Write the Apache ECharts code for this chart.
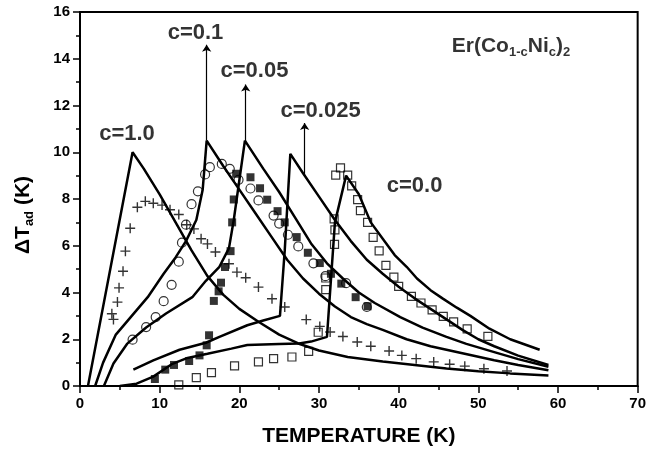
<!DOCTYPE html>
<html>
<head>
<meta charset="utf-8">
<script src="https://cdn.jsdelivr.net/npm/echarts@6/dist/echarts.min.js"></script>
<style>
  html, body { margin: 0; padding: 0; background: #fff; }
  #chart { width: 649px; height: 455px; }
</style>
</head>
<body>
<div id="chart"></div>
<script>
// model curves, [T (K), dTad (K)]
const lineC10 = [[1.0,0],[6.6,10.0],[8,9.3],[10,8.2],[12,7.0],[14,5.8],[16,4.7],[18,3.9],[20,3.3],[22.4,2.75],[25,2.2],[27.4,1.82],[30,1.52],[33.6,1.24],[38,1.05],[42,0.9],[46,0.75],[50,0.63],[54,0.54],[58.8,0.45]];
const lineC01 = [[1.9,0],[2.9,1.0],[4.5,2.2],[6.5,3.0],[8.5,3.8],[10.5,4.8],[12,5.5],[13.3,6.2],[14.6,7.1],[15.4,8.4],[15.9,10.5],[18,9.4],[20,8.4],[22,7.4],[24,6.4],[26,5.4],[28,4.6],[30,3.95],[32,3.4],[34,2.95],[36,2.65],[38,2.4],[41,2.0],[44,1.7],[48,1.4],[52,1.1],[55,0.9],[58.8,0.67]];
const lineC005 = [[3.0,0],[4.2,0.96],[5.9,1.8],[8.3,2.5],[10.8,3.1],[14.1,3.8],[15.8,4.5],[17.5,5.1],[18.7,5.9],[19.3,7.1],[20.7,10.5],[23,9.3],[25,8.3],[27,7.2],[29,6.1],[31,5.25],[33,4.6],[35,4.0],[37,3.55],[40.2,2.95],[43,2.5],[46,2.1],[48.5,1.8],[52,1.45],[55,1.15],[58.8,0.82]];
const lineC0025 = [[6.7,0.7],[9.2,1.1],[12.5,1.55],[15.8,1.85],[17.5,2.1],[21,2.6],[23,2.8],[25.1,3.0],[25.7,5.8],[26.4,9.93],[28,9.1],[30,8.1],[32,7.1],[34,6.2],[36,5.4],[38,4.8],[40,4.25],[42,3.75],[44,3.3],[46,2.85],[48,2.4],[50,2.0],[52,1.7],[55,1.3],[58.8,0.9]];
const lineC00 = [[5.0,0],[7.1,0.1],[9.2,0.4],[11.6,0.95],[13.5,1.2],[16,1.38],[19,1.6],[21,1.75],[25,1.8],[27.5,1.82],[29,1.9],[31,2.1],[32,7.0],[33.4,9.0],[35,8.2],[36.5,7.0],[38,6.3],[39.5,5.6],[41,5.1],[42.3,4.6],[44,4.1],[45.5,3.75],[47.3,3.35],[49,3.0],[51.4,2.45],[54,2.0],[57.7,1.55]];

// measured points
const plusC10 = [[4.2,2.85],[4.0,3.09],[4.7,3.59],[4.9,4.2],[5.4,4.91],[5.7,5.77],[6.3,6.75],[7.2,7.65],[8.2,7.9],[9.2,7.82],[10.3,7.74],[11.3,7.54],[12.4,7.34],[13.4,6.9],[14.3,6.72],[15.2,6.3],[16.0,6.08],[17.0,5.73],[18.7,5.23],[19.7,4.87],[20.8,4.63],[22.4,4.23],[24.1,3.73],[25.7,3.38],[28.4,2.84],[30.1,2.55],[31.4,2.31],[33.0,2.12],[34.8,1.88],[36.5,1.7],[38.8,1.5],[40.4,1.31],[42.2,1.17],[44.4,1.03],[46.4,0.93],[48.3,0.85],[50.7,0.74],[53.6,0.64]];
const circC01 = [[6.6,1.98],[8.3,2.52],[9.5,2.95],[10.5,3.63],[11.5,4.33],[12.4,5.32],[12.8,6.13],[13.3,6.9],[14.0,7.78],[14.8,8.33],[15.7,9.05],[16.3,9.36],[17.8,9.5],[18.8,9.29],[19.9,8.82],[21.4,8.45],[22.4,7.94],[24.3,7.29],[25.0,6.95],[26.1,6.47],[27.4,5.97],[29.3,5.25],[30.8,4.7],[33.4,4.4],[36.0,3.38]];
const fillSqC005 = [[9.4,0.3],[10.7,0.7],[11.8,0.9],[13.7,1.07],[15.0,1.31],[15.9,1.74],[16.2,2.17],[16.8,3.64],[17.4,4.05],[17.7,4.42],[18.2,5.09],[18.9,5.77],[19.1,7.0],[19.3,7.98],[19.6,9.08],[21.4,8.93],[22.6,8.46],[23.5,7.97],[24.8,7.48],[25.7,7.0],[27.2,6.37],[28.6,5.7],[30.1,5.26],[31.5,4.8],[32.8,4.38],[34.6,3.8],[36.1,3.41]];
const openSqC00 = [[12.4,0.05],[14.6,0.36],[16.5,0.57],[19.4,0.86],[22.4,1.03],[24.3,1.17],[26.6,1.24],[28.7,1.48],[29.9,2.3],[30.85,4.12],[30.85,4.62],[31.95,6.06],[32.0,6.68],[31.9,7.15],[32.1,9.02],[32.7,9.33],[33.6,9.02],[34.1,8.56],[34.85,7.97],[35.2,7.5],[36.1,7.0],[36.8,6.36],[37.55,5.78],[38.4,5.16],[39.4,4.66],[40.0,4.26],[41.6,3.83],[42.8,3.55],[44.2,3.26],[45.6,2.98],[46.9,2.74],[48.6,2.44],[51.2,2.12]];

// annotations
const arrowLines = [[[15.9,10.5],[15.9,14.6]],[[20.8,10.45],[20.8,12.9]],[[28.2,9.0],[28.2,11.25]]];
const labelNames = ['c=1.0','c=0.1','c=0.05','c=0.025','c=0.0','{m|Er(Co}{s|1-c}{m|Ni}{s|c}{m|)}{s|2}'];
const labelPos = [[5.9,10.8],[14.5,15.1],[21.9,13.5],[30.2,11.75],[42.0,8.55],[54.1,14.55]];

const xTicks = { min: 0, max: 70, interval: 10 };
const yTicks = { min: 0, max: 16, interval: 2 };

const font = 'Liberation Sans, Arial, sans-serif';
const plusPath = 'path://M4.3,0H5.7V4.3H10V5.7H5.7V10H4.3V5.7H0V4.3H4.3Z';

let myChart = echarts.init(document.getElementById('chart'), null, { renderer: 'canvas' });

function curve(data) {
    return {
        type: 'line',
        data: data,
        showSymbol: false,
        symbol: 'none',
        lineStyle: { color: '#000', width: 2.5 },
        z: 2,
        silent: true
    };
}

let axisCommon = {
    type: 'value',
    axisLine: { show: true, lineStyle: { color: '#000', width: 2 } },
    axisTick: { show: true, inside: false, length: 7, lineStyle: { color: '#000', width: 1.5 } },
    minorTick: { show: true, splitNumber: 2, length: 4, lineStyle: { color: '#000', width: 1.5 } },
    splitLine: { show: false },
    axisLabel: { color: '#000', fontWeight: 'bold', fontSize: 15, fontFamily: font, margin: 10 },
    nameLocation: 'middle'
};

let option = {
    backgroundColor: '#fff',
    animation: false,
    grid: { left: 80, top: 12, right: 6, bottom: 69, show: true, borderColor: '#000', borderWidth: 2 },
    xAxis: Object.assign({}, axisCommon, xTicks, {
        name: 'TEMPERATURE (K)',
        nameGap: 40,
        nameTextStyle: { color: '#000', fontWeight: 'bold', fontSize: 21, fontFamily: font }
    }),
    yAxis: Object.assign({}, axisCommon, yTicks, {
        name: '{a|ΔT}{s|ad}{a| (K)}',
        nameGap: 44,
        nameTextStyle: {
            color: '#000', fontFamily: font, padding: [0, 32, 0, 0],
            rich: {
                a: { fontSize: 21, fontWeight: 'bold', fontFamily: font, color: '#000', lineHeight: 26 },
                s: { fontSize: 13, fontWeight: 'bold', fontFamily: font, color: '#000', lineHeight: 14, padding: [12, 0, 0, 0] }
            }
        }
    }),
    series: [
        curve(lineC10), curve(lineC01), curve(lineC005), curve(lineC0025), curve(lineC00),
        {
            type: 'scatter', data: plusC10, symbol: plusPath, symbolSize: 10,
            itemStyle: { color: '#000' }, z: 3
        },
        {
            type: 'scatter', data: circC01, symbol: 'circle', symbolSize: 9,
            itemStyle: { color: 'rgba(255,255,255,0)', borderColor: '#000', borderWidth: 1.2 }, z: 3
        },
        {
            type: 'scatter', data: fillSqC005, symbol: 'rect', symbolSize: 8,
            itemStyle: { color: '#000' }, z: 3
        },
        {
            type: 'scatter', data: openSqC00, symbol: 'rect', symbolSize: 8,
            itemStyle: { color: 'rgba(255,255,255,0)', borderColor: '#000', borderWidth: 1.2 }, z: 3
        },
        {
            type: 'lines', coordinateSystem: 'cartesian2d',
            data: arrowLines.map(c => ({ coords: c })),
            symbol: ['none', 'arrow'], symbolSize: [0, 7],
            lineStyle: { color: '#000', width: 1.2, opacity: 1 }, z: 4
        },
        {
            type: 'scatter', symbolSize: 0, z: 5,
            data: labelPos.map((p, i) => ({ value: p, name: labelNames[i] })),
            label: {
                show: true, position: 'inside', formatter: '{b}',
                color: '#000', fontWeight: 'bold', fontSize: 22, fontFamily: font,
                rich: {
                    m: { fontSize: 21, fontWeight: 'bold', fontFamily: font, color: '#000', lineHeight: 28 },
                    s: { fontSize: 13, fontWeight: 'bold', fontFamily: font, color: '#000', lineHeight: 14, padding: [14, 0, 0, 0] }
                }
            }
        }
    ]
};
myChart.setOption(option);
</script>
</body>
</html>
